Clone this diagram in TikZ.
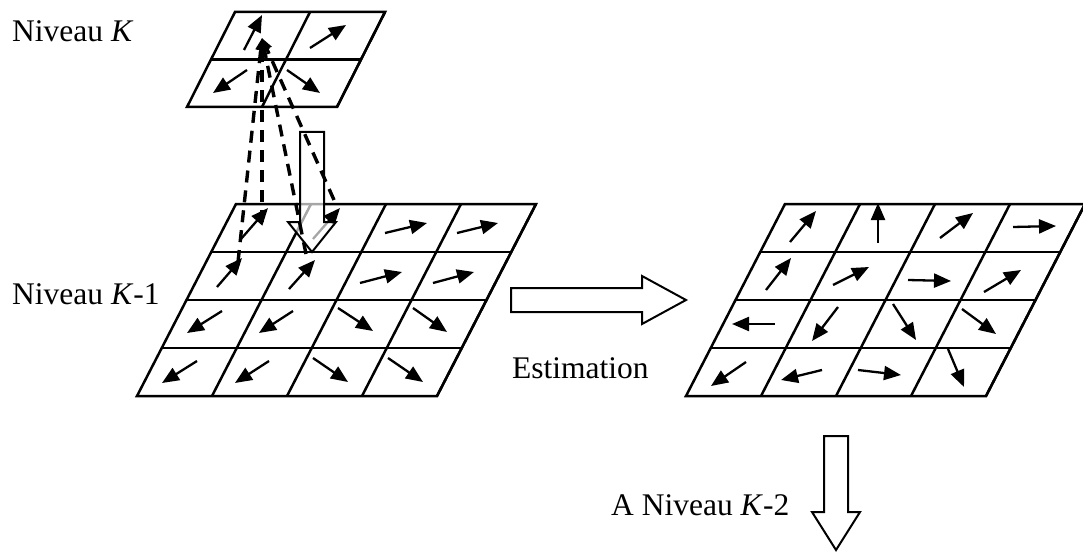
\documentclass[tikz,border=0pt]{standalone}
\usepackage{fontspec}
\setmainfont{Liberation Serif}
\usetikzlibrary{arrows.meta}
\newcommand\mvgrid[7]{%
  \foreach \r in {1,...,#4} \draw[gridline] ({#1-\r*#7},{#2+\r*#6}) -- ++({#3*#5},0);
  \foreach \c in {1,...,#3} \draw[gridline] ({#1+\c*#5},#2) -- ++({-#4*#7},{#4*#6});
  \draw[gridline] (#1,#2) -- ++({#3*#5},0) -- ++({-#4*#7},{#4*#6}) -- ++({-#3*#5},0) -- cycle;
}
\begin{document}
\begin{tikzpicture}[x=1pt,y=-1pt,
  gridline/.style={line width=2.5pt,line join=miter},
  vec/.style={line width=2.3pt,-{Triangle[length=17pt,width=14pt]}},
  dashvec/.style={line width=3.4pt,dash pattern=on 12pt off 8pt,-{Triangle[length=12pt,width=10pt]}},
  hollow/.style={draw=black,line width=2pt,fill=white,line join=miter},
  lbl/.style={inner sep=0pt,anchor=base west,font=\fontsize{31.5}{36}\selectfont}]
\useasboundingbox (0,0) rectangle (1083,556);

% labels
\node[lbl] (lk)  at (12,42)  {Niveau \textit{K}};
\node[lbl] (lk1) at (12,304) {Niveau \textit{K}-1};
\node[lbl] (lest) at (512,378) {Estimation};
\node[lbl] (lk2) at (611,515) {A Niveau \textit{K}-2};

% grids
\mvgrid{235}{12}{2}{2}{75}{47.5}{24}
\mvgrid{236}{204}{4}{4}{75}{48}{24.75}
\mvgrid{785}{204}{4}{4}{75}{48}{24.75}

% level K vectors
\draw[vec] (244,50) -- (262,15);
\draw[vec] (310,48) -- (346,25);
\draw[vec] (247,70) -- (213,93);
\draw[vec] (287,70) -- (320,93);

% level K-1 vectors
\draw[vec] (241,239) -- (268,208);
\draw[vec] (313,239) -- (340,208);
\draw[vec] (385,233) -- (427,223);
\draw[vec] (457,233) -- (498,223);
\draw[vec] (217,287) -- (242,258);
\draw[vec] (289,289) -- (315,260);
\draw[vec] (360,283) -- (402,272);
\draw[vec] (433,283) -- (474,272);
\draw[vec] (222,311) -- (187,333);
\draw[vec] (293,311) -- (259,333);
\draw[vec] (338,308) -- (373,331);
\draw[vec] (413,308) -- (447,332);
\draw[vec] (197,361) -- (162,383);
\draw[vec] (269,361) -- (235,383);
\draw[vec] (313,358) -- (348,382);
\draw[vec] (388,358) -- (423,382);

% estimated vectors
\draw[vec] (790,242) -- (816,211);
\draw[vec] (878,243) -- (878,203);
\draw[vec] (940,238) -- (973,213);
\draw[vec] (1013,227) -- (1056,226);
\draw[vec] (766,290) -- (791,258);
\draw[vec] (833,285) -- (869,267);
\draw[vec] (908,280) -- (951,281);
\draw[vec] (984,292) -- (1021,270);
\draw[vec] (775,324) -- (732,324);
\draw[vec] (838,307) -- (812,341);
\draw[vec] (893,304) -- (916,340);
\draw[vec] (962,309) -- (996,334);
\draw[vec] (746,362) -- (711,386);
\draw[vec] (822,370) -- (781,380);
\draw[vec] (858,370) -- (901,375);
\draw[vec] (948,349) -- (964,387);

% hollow arrows
\draw[hollow,fill opacity=0.65] (300,132) -- (324,132) -- (324,222) -- (336,222) -- (312,252) -- (288,222) -- (300,222) -- cycle;
\draw[hollow] (511,288) -- (642,288) -- (642,276) -- (686,300) -- (642,324) -- (642,312) -- (511,312) -- cycle;
\draw[hollow] (824,436) -- (848,436) -- (848,512) -- (860,512) -- (836,550) -- (812,512) -- (824,512) -- cycle;

% projection lines
\coordinate (apex) at (262,38);
\coordinate (p1) at (238,262);
\coordinate (p2) at (262,222);
\coordinate (p3) at (306,254);
\coordinate (p4) at (334,200);
\foreach \p in {p1,p2,p3,p4} \draw[dashvec] (\p) -- (apex);
\end{tikzpicture}
\end{document}
